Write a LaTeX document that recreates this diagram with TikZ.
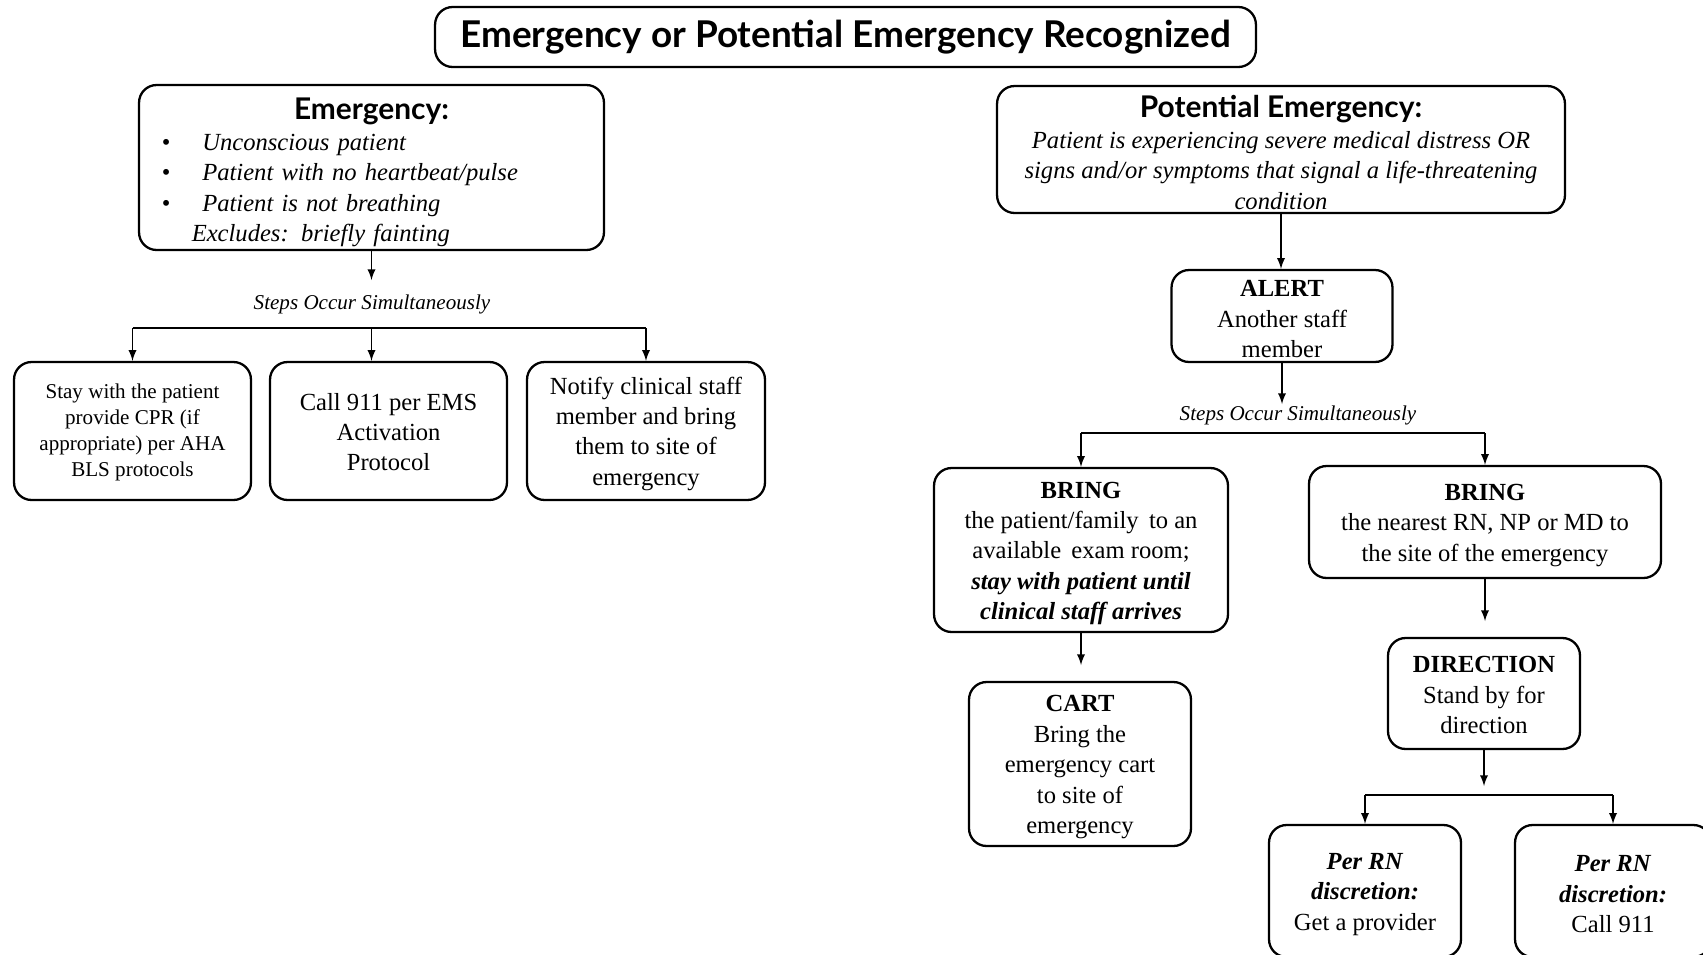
\documentclass[tikz,border=0pt]{standalone}
\usepackage{fontspec}
\setmainfont{Liberation Serif}
\newfontfamily\headfont{Lato}
% a taller first line, so the text sits a bit lower in its box
\newcommand{\tall}[1][13pt]{\rule{0pt}{#1}}

\begin{document}
\begin{tikzpicture}[x=0.02cm,y=-0.02cm,>=latex,
        box/.style={draw,line width=1.3pt,rounded corners=10pt,align=center,
            inner sep=0pt,font=\fontsize{14}{17.3}\selectfont},
        small/.style={font=\fontsize{12}{14.8}\selectfont},
        note/.style={font=\fontsize{12}{14}\selectfont\itshape,inner sep=1pt},
        link/.style={line width=1.1pt}]
        % fix the page and cut the last boxes at its edge
        \clip (0,0) rectangle (1703,954);

        % draw the title
        \node[box,minimum width=16.42cm,minimum height=1.2cm,
              font=\headfont\bfseries\fontsize{21}{23}\selectfont] (title) at (845.5,37)
              {Emergency or Potential Emergency Recognized};

        % draw the emergency side
        \node[box,text width=9.3cm,minimum height=3.3cm,align=left] (emerg) at (371.5,167.5)
              {\tall[18pt]\makebox[9.3cm]{\headfont\bfseries\fontsize{17}{19}\selectfont Emergency:}\\[0pt]
               \hspace*{13pt}\makebox[23pt][l]{\textbullet}\textit{Unconscious patient}\\
               \hspace*{13pt}\makebox[23pt][l]{\textbullet}\textit{Patient with no heartbeat/pulse}\\
               \hspace*{13pt}\makebox[23pt][l]{\textbullet}\textit{Patient is not breathing}\\
               \hspace*{30pt}\textit{Excludes: briefly fainting}};
        \coordinate (split1) at (371.5,280);
        \draw[->,link] (emerg.south) -- (split1);
        \node[note] (steps1) at (372,304) {Steps Occur Simultaneously};

        \node[box,small,minimum width=4.74cm,minimum height=2.76cm] (stay) at (132.5,431)
              {\tall[10pt]Stay with the patient\\ provide CPR (if\\ appropriate) per AHA\\ BLS protocols};
        \node[box,minimum width=4.74cm,minimum height=2.76cm] (call) at (388.5,431)
              {\tall[11pt]Call 911 per EMS\\ Activation\\ Protocol};
        \node[box,minimum width=4.76cm,minimum height=2.76cm] (notify) at (646,431)
              {\tall Notify clinical staff\\ member and bring\\ them to site of\\ emergency};

        % the three steps hang from one line
        \coordinate (bus1) at (371.5,328);
        \draw[link] (stay.north |- bus1) -- (notify.north |- bus1);
        \draw[->,link] (stay.north |- bus1) -- (stay.north);
        \draw[->,link] (bus1) -- (bus1 |- call.north);
        \draw[->,link] (notify.north |- bus1) -- (notify.north);

        % draw the potential emergency side
        \node[box,minimum width=11.36cm,minimum height=2.54cm] (potent) at (1281,149.5)
              {\tall[16pt]{\headfont\bfseries\fontsize{17}{19}\selectfont Potential Emergency:}\\[0pt]
               \itshape Patient is experiencing severe medical distress OR\\
               \itshape signs and/or symptoms that signal a life-threatening\\
               \itshape condition};
        \node[box,minimum width=4.42cm,minimum height=1.84cm] (alert) at (1282,316)
              {\tall\textbf{ALERT}\\ Another staff\\ member};
        \draw[->,link] (potent.south) -- (potent.south |- alert.north);

        \coordinate (split2) at (1282,404);
        \draw[->,link] (alert.south) -- (split2);
        \node[note] (steps2) at (1298,415) {Steps Occur Simultaneously};

        \node[box,minimum width=5.88cm,minimum height=3.28cm] (bringpt) at (1081,550)
              {\tall\textbf{BRING}\\ the patient/family\, to an\\ available\, exam room;\\
               \textbf{\textit{stay with patient until}}\\ \textbf{\textit{clinical staff arrives}}};
        \node[box,minimum width=7.04cm,minimum height=2.24cm] (bringrn) at (1485,522)
              {\tall\textbf{BRING}\\ the nearest RN, NP or MD to\\ the site of the emergency};

        \coordinate (bus2) at (1282,433);
        \draw[link] (bringpt.north |- bus2) -- (bringrn.north |- bus2);
        \foreach \n in {bringpt,bringrn}
                \draw[->,link] (\n.north |- bus2) -- (\n.north);

        \node[box,minimum width=4.44cm,minimum height=3.28cm] (cart) at (1080,764)
              {\tall\textbf{CART}\\ Bring the\\ emergency cart\\ to site of\\ emergency};
        \draw[->,link,shorten >=9pt] (bringpt.south) -- (bringpt.south |- cart.north);

        \node[box,minimum width=3.84cm,minimum height=2.22cm] (direct) at (1484,693.5)
              {\tall[11pt]\textbf{DIRECTION}\\ Stand by for\\ direction};
        \draw[->,link,shorten >=9pt] (bringrn.south) -- (bringrn.south |- direct.north);

        % the two calls left to the nurse
        \coordinate (split3) at (1484,786);
        \draw[->,link] (direct.south) -- (split3);
        \coordinate (bus3) at (1484,795);

        \node[box,minimum width=3.84cm,minimum height=2.64cm] (provider) at (1365,891)
              {\tall\textbf{\textit{Per RN}}\\ \textbf{\textit{discretion:}}\\ Get a provider};
        \node[box,minimum width=3.92cm,minimum height=2.64cm] (callrn) at (1613,891)
              {\tall\textbf{\textit{Per RN}}\\ \textbf{\textit{discretion:}}\\ Call 911};

        \draw[link] (provider.north |- bus3) -- (callrn.north |- bus3);
        \foreach \n in {provider,callrn}
                \draw[->,link] (\n.north |- bus3) -- (\n.north);
\end{tikzpicture}
\end{document}
